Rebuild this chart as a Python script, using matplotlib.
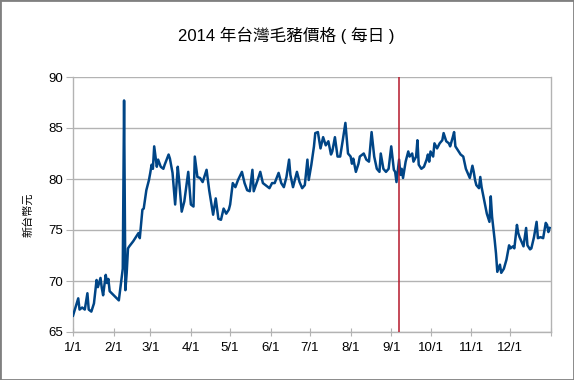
import matplotlib
matplotlib.use("Agg")
import matplotlib.pyplot as plt
import matplotlib.dates as mdates
from matplotlib.patches import Rectangle
import datetime as dt

plt.rcParams['font.family'] = ['Liberation Sans', 'Noto Sans CJK TC', 'DejaVu Sans']

title = "2014 年台灣毛豬價格 ( 每日 )"
ylabel = "新台幣元"

# day-of-year offsets (0 = 2014-01-01) and prices (NTD)
day_offsets = [0, 4, 5, 7, 9, 11, 12, 14, 16, 18, 19, 21, 22, 23, 25, 26, 27, 28, 35, 38,
               39, 40, 41, 42, 43, 46, 48, 50, 51, 53, 54, 56, 58, 59, 60, 61, 62, 64, 65, 67,
               69, 70, 73, 74, 76, 78, 80, 81, 83, 85, 87, 88, 90, 92, 93, 95, 97, 99, 102, 104,
               107, 109, 111, 113, 115, 117, 119, 120, 122, 124, 126, 129, 131, 133, 135, 137, 138, 141, 143, 145,
               147, 150, 152, 154, 157, 159, 161, 163, 165, 166, 168, 171, 173, 175, 177, 179, 180, 182, 184, 185,
               187, 189, 191, 193, 195, 197, 198, 200, 202, 204, 206, 208, 210, 212, 213, 214, 216, 218, 219, 222,
               224, 226, 228, 230, 232, 234, 235, 237, 239, 241, 243, 245, 246, 247, 249, 250, 251, 252, 254, 256,
               257, 259, 260, 262, 263, 264, 266, 268, 270, 271, 272, 273, 275, 276, 278, 280, 282, 283, 285, 287,
               288, 290, 291, 292, 294, 296, 298, 300, 302, 303, 305, 306, 307, 308, 310, 311, 312, 314, 316, 318,
               319, 320, 322, 323, 324, 326, 327, 329, 331, 333, 334, 336, 337, 339, 340, 341, 343, 344, 346, 347,
               349, 350, 352, 354, 355, 357, 359, 361, 362, 363, 364]
prices = [66.6, 68.3, 67.2, 67.4, 67.2, 68.8, 67.2, 67.0, 67.8, 70.1, 69.4, 70.3, 69.3, 68.6, 70.6, 69.8, 70.2, 69.0, 68.1, 71.2,
          87.7, 69.1, 70.8, 73.2, 73.4, 73.9, 74.3, 74.7, 74.2, 77.0, 77.1, 78.9, 79.9, 80.6, 81.4, 81.0, 83.2, 81.2, 81.9, 81.2,
          81.0, 81.4, 82.4, 82.0, 80.6, 77.5, 81.2, 79.9, 76.8, 77.8, 79.7, 80.7, 77.5, 77.3, 82.2, 80.2, 80.1, 79.7, 80.9, 78.9,
          76.5, 78.1, 76.1, 76.0, 77.1, 76.6, 77.0, 77.5, 79.6, 79.2, 79.9, 80.7, 79.6, 78.9, 78.8, 80.9, 78.8, 79.9, 80.7, 79.6,
          79.4, 79.1, 79.6, 79.6, 80.6, 79.6, 79.2, 80.2, 81.9, 80.4, 79.2, 80.7, 79.7, 79.1, 79.4, 81.9, 79.9, 81.4, 83.2, 84.5,
          84.6, 83.0, 84.1, 83.3, 83.7, 82.4, 82.7, 84.1, 82.2, 82.2, 83.8, 85.5, 82.5, 82.2, 81.5, 82.0, 80.7, 81.5, 82.2, 82.5,
          81.9, 81.7, 84.6, 82.2, 81.0, 80.7, 82.5, 81.0, 80.7, 81.0, 83.2, 80.9, 80.7, 79.7, 81.9, 80.4, 81.0, 80.1, 81.7, 82.7,
          82.2, 82.5, 81.7, 82.2, 83.8, 81.4, 81.0, 81.2, 81.9, 82.4, 81.7, 82.7, 82.2, 83.5, 83.0, 83.5, 83.8, 84.5, 83.7, 83.5,
          83.2, 84.1, 84.6, 83.2, 82.8, 82.4, 82.2, 81.0, 80.4, 80.1, 81.3, 80.7, 79.9, 79.4, 79.1, 80.2, 79.2, 77.9, 76.6, 75.8,
          78.3, 76.3, 74.0, 72.7, 70.9, 71.6, 70.8, 71.2, 72.1, 73.5, 73.2, 73.4, 73.2, 75.5, 74.7, 74.3, 73.7, 73.4, 75.2, 73.5,
          73.1, 73.2, 74.3, 75.8, 74.2, 74.3, 74.2, 75.7, 75.5, 74.8, 75.2]

event_date = "2014-09-07"
tick_labels = ["1/1", "2/1", "3/1", "4/1", "5/1", "6/1", "7/1", "8/1", "9/1", "10/1", "11/1", "12/1", ""]
y_ticks = [65, 70, 75, 80, 85, 90]

start = dt.date(2014, 1, 1)
dates = [start + dt.timedelta(days=d) for d in day_offsets]

W, H = 574, 380
fig = plt.figure(figsize=(W / 100, H / 100), dpi=100)
ax = fig.add_axes([73 / W, 1 - 332 / H, (551 - 73) / W, (332 - 77) / H])

grid_c = '#b3b3b3'
ax.set_ylim(65, 90)
ax.set_yticks(y_ticks)
ax.yaxis.grid(True, color=grid_c, linewidth=1.0)
ax.set_axisbelow(True)

ax.plot(dates, prices, color='#004586', linewidth=1.8, solid_joinstyle='round', zorder=3)
ax.axvline(dt.date.fromisoformat(event_date), color='#b5182b', linewidth=1.1, zorder=4)

tick_dates = [dt.date(2014, m, 1) for m in range(1, 13)] + [dt.date(2015, 1, 1)]
ax.set_xlim(dt.date(2014, 1, 1), dt.date(2015, 1, 1))
ax.set_xticks(tick_dates)
ax.set_xticklabels(tick_labels)

for s in ['left', 'bottom', 'right']:
    ax.spines[s].set_color(grid_c)
    ax.spines[s].set_linewidth(1.0)
ax.spines['top'].set_visible(False)

ax.tick_params(axis='y', direction='out', length=5, color=grid_c, labelsize=9.5, pad=2, labelcolor='#000000')
ax.tick_params(axis='x', direction='inout', length=6, color=grid_c, labelsize=9.5, pad=4, labelcolor='#000000')

fig.text(0.4995, 1 - 35.5 / H, title, ha='center', va='center', fontsize=12,
         family=['Liberation Sans', 'Noto Sans CJK TC'])
fig.text(28 / W, 1 - 215 / H, ylabel, ha='center', va='center', rotation=90, fontsize=8,
         family=['Noto Sans CJK TC'])

fig.patches.append(Rectangle((0, 0), 1, 1, transform=fig.transFigure, fill=False,
                             edgecolor='#808080', linewidth=2.0))

fig.savefig('out.png', dpi=100)
